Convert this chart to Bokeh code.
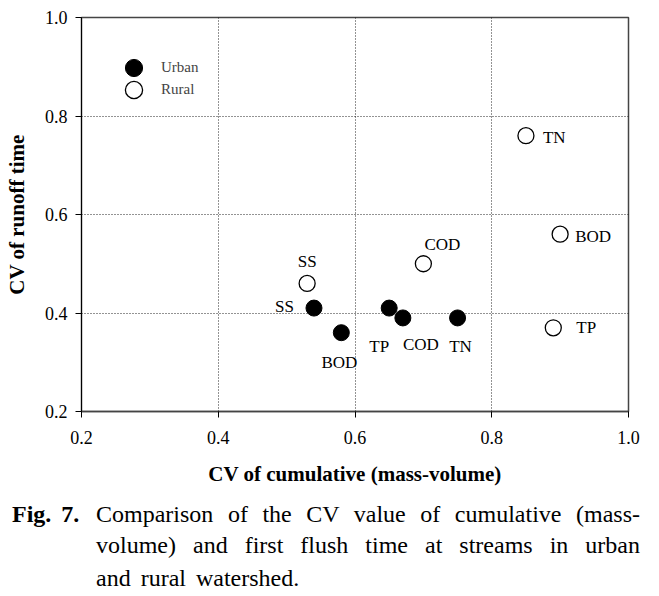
from bokeh.plotting import figure
from bokeh.models import (ColumnDataSource, FixedTicker, PrintfTickFormatter, Div,
                          Range1d, Legend, LegendItem)
from bokeh.layouts import column
from bokeh.embed import file_html
from bokeh.resources import INLINE
from bokeh.core.properties import value

# ---- data ----
urban_params = ["SS", "BOD", "TP", "COD", "TN"]
urban_x = [0.54, 0.58, 0.65, 0.67, 0.75]
urban_y = [0.41, 0.36, 0.41, 0.39, 0.39]

rural_params = ["SS", "COD", "BOD", "TP", "TN"]
rural_x = [0.53, 0.70, 0.90, 0.89, 0.85]
rural_y = [0.46, 0.50, 0.56, 0.37, 0.76]

ticks = [0.2, 0.4, 0.6, 0.8, 1.0]
x_label = "CV of cumulative (mass-volume)"
y_label = "CV of runoff time"
series_names = ["Urban", "Rural"]

# ---- label placement styles (pixel offsets) ----
urban_align = ["right", "center", "center", "center", "center"]
urban_dx = [-20, -2, -10, 18, 3]
urban_dy = [-2, 30, 38, 27, 29]
rural_align = ["center", "center", "left", "left", "left"]
rural_dx = [0, 19, 15, 23, 17]
rural_dy = [-22, -19, 2, 0, 2]

FONT = "Liberation Serif"

urban_src = ColumnDataSource(dict(x=urban_x, y=urban_y, t=urban_params,
                                  al=urban_align, dx=urban_dx, dy=urban_dy))
rural_src = ColumnDataSource(dict(x=rural_x, y=rural_y, t=rural_params,
                                  al=rural_align, dx=rural_dx, dy=rural_dy))

p = figure(width=653, height=491, output_backend="svg", toolbar_location=None,
           x_range=Range1d(ticks[0], ticks[-1]), y_range=Range1d(ticks[0], ticks[-1]),
           min_border_left=81, min_border_top=17, min_border_right=25, min_border_bottom=80)

p.background_fill_color = "white"
p.border_fill_color = "white"
p.outline_line_color = "#444444"
p.outline_line_width = 1.5

for ax in (p.xaxis[0], p.yaxis[0]):
    ax.ticker = FixedTicker(ticks=ticks)
    ax.formatter = PrintfTickFormatter(format="%.1f")
    ax.major_tick_in = 0
    ax.major_tick_out = 6
    ax.minor_tick_in = 0
    ax.minor_tick_out = 0
    ax.major_label_text_font = FONT
    ax.major_label_text_font_size = "18px"
    ax.major_label_text_color = "black"
    ax.axis_label_text_font = FONT
    ax.axis_label_text_font_size = "21px"
    ax.axis_label_text_font_style = "bold"
    ax.axis_label_text_color = "black"
    ax.axis_line_color = "black"
    ax.major_tick_line_color = "black"

p.xaxis.axis_label = x_label
p.yaxis.axis_label = y_label
p.xaxis.major_label_standoff = 13
p.xaxis.axis_label_standoff = 15
p.yaxis.major_label_standoff = 8
p.yaxis.axis_label_standoff = 13
p.xaxis.axis_line_color = "#444444"
p.xaxis.axis_line_width = 1.5

for g in (p.xgrid[0], p.ygrid[0]):
    g.ticker = FixedTicker(ticks=ticks)
    g.grid_line_color = "black"
    g.grid_line_dash = "1 2"
    g.grid_line_width = 1
    g.grid_line_alpha = 0.85

r_urban = p.scatter("x", "y", source=urban_src, size=16, marker="circle",
                    fill_color="black", line_color="black", line_width=1)
r_rural = p.scatter("x", "y", source=rural_src, size=16, marker="circle",
                    fill_color="white", line_color="black", line_width=1.3)

for src in (urban_src, rural_src):
    p.text("x", "y", text="t", source=src, text_align="al", text_baseline="middle",
           x_offset="dx", y_offset="dy", text_font=value(FONT),
           text_font_size="17px", text_color="black")

# one legend per entry so the rows can sit closer than the glyph box height
legend_locs = [(31, 322), (31, 300)]
for name, rend, loc in zip(series_names, [r_urban, r_rural], legend_locs):
    lg = Legend(items=[LegendItem(label=name, renderers=[rend])],
                location=loc, glyph_width=43, glyph_height=43, spacing=0,
                padding=0, margin=0, label_standoff=6,
                label_text_font=FONT, label_text_font_size="15px",
                label_text_baseline="middle",
                border_line_color=None, background_fill_alpha=0)
    p.add_layout(lg, "center")

caption_html = f"""
<div style="font-family:'{FONT}'; font-size:24px; color:#000; width:653px; height:100px;
            padding-top:8px; box-sizing:border-box; display:flex; flex-direction:row;">
  <div style="width:96px; padding-left:12px; box-sizing:border-box; font-weight:bold;
              line-height:31px; word-spacing:4px; white-space:nowrap;">Fig. 7.</div>
  <div style="width:544px;">
    <div style="line-height:31px; text-align:justify; text-align-last:justify;">Comparison of the CV value of cumulative (mass-</div>
    <div style="line-height:31px; text-align:justify; text-align-last:justify;">volume) and first flush time at streams in urban</div>
    <div style="line-height:14px; margin-top:10px; word-spacing:4px;">and rural watershed.</div>
  </div>
</div>
"""
cap = Div(text=caption_html, width=653, height=100, margin=0)

layout = column(p, cap, spacing=0)
open("out.html", "w").write(file_html(layout, INLINE))
